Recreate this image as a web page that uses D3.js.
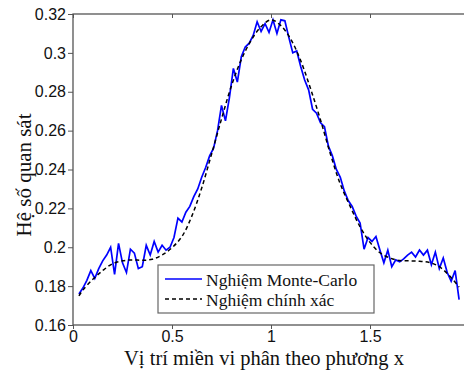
<!DOCTYPE html>
<html>
<head>
<meta charset="utf-8">
<script src="https://cdn.jsdelivr.net/npm/d3@7"></script>
<style>
  body { margin: 0; background: #fff; }
  svg { display: block; }
  .tick text { font-family: "Liberation Sans", Arial, sans-serif; font-size: 16px; fill: #111; }
  .lbl { font-family: "Liberation Serif", "Times New Roman", serif; fill: #111; }
</style>
</head>
<body>
<svg id="chart"></svg>
<script>
'use strict';

// exact solution (dashed)
var exactX = [0.03, 0.05, 0.10, 0.15, 0.20, 0.25, 0.30, 0.35, 0.40, 0.45, 0.50, 0.55, 0.60, 0.65, 0.70,
              0.75, 0.80, 0.85, 0.90, 0.95, 1.00, 1.05, 1.10, 1.15, 1.20, 1.25, 1.30, 1.35, 1.40, 1.45,
              1.50, 1.55, 1.60, 1.65, 1.70, 1.75, 1.80, 1.85, 1.90, 1.95];
var exactY = [0.1750, 0.1780, 0.1835, 0.1880, 0.1915, 0.1930, 0.1935, 0.1933, 0.1938, 0.1960, 0.1998, 0.2055, 0.2160, 0.2305, 0.2480,
              0.2660, 0.2830, 0.2965, 0.3065, 0.3135, 0.3170, 0.3140, 0.3070, 0.2960, 0.2815, 0.2655, 0.2480, 0.2325, 0.2210, 0.2105,
              0.2025, 0.1972, 0.1945, 0.1932, 0.1930, 0.1928, 0.1922, 0.1900, 0.1855, 0.1795];

// Monte-Carlo result, one value every 0.02 starting at x = 0.03
var mcStart = 0.03, mcStep = 0.02;
var mcY = [0.176, 0.179, 0.183, 0.188, 0.184, 0.189, 0.193, 0.196, 0.200, 0.186,
           0.202, 0.192, 0.187, 0.199, 0.197, 0.189, 0.190, 0.201, 0.196, 0.203,
           0.1975, 0.201, 0.1985, 0.200, 0.205, 0.215, 0.213, 0.218, 0.221, 0.226,
           0.230, 0.236, 0.241, 0.247, 0.251, 0.260, 0.273, 0.265, 0.277, 0.292,
           0.285, 0.298, 0.303, 0.305, 0.309, 0.316, 0.311, 0.315, 0.3105, 0.317,
           0.310, 0.317, 0.3165, 0.308, 0.300, 0.301, 0.293, 0.286, 0.281, 0.271,
           0.269, 0.264, 0.262, 0.252, 0.247, 0.240, 0.236, 0.229, 0.224, 0.221,
           0.216, 0.2125, 0.199, 0.205, 0.203, 0.2055, 0.1986, 0.192, 0.1985, 0.190,
           0.1935, 0.1925, 0.194, 0.196, 0.1975, 0.195, 0.1986, 0.196, 0.1985, 0.191,
           0.1975, 0.189, 0.1945, 0.187, 0.1825, 0.188, 0.173];

var xTicks = [0, 0.5, 1, 1.5];
var yTicks = [0.16, 0.18, 0.2, 0.22, 0.24, 0.26, 0.28, 0.3, 0.32];
var legendNames = ["Nghiệm Monte-Carlo", "Nghiệm chính xác"];

var width = 464, height = 372;
var m = { left: 73, right: 469, top: 14, bottom: 325 };

var svg = d3.select("#chart").attr("width", width).attr("height", height);

var x = d3.scaleLinear().domain([0, 2]).range([m.left, m.right]);
var y = d3.scaleLinear().domain([0.16, 0.32]).range([m.bottom, m.top]);

var exact = exactX.map(function(d, i) { return [d, exactY[i]]; });
var mc = mcY.map(function(v, i) { return [mcStart + i * mcStep, v]; });

// axes, matlab style box
var axisCol = "#555";
svg.append("g").attr("transform", "translate(0," + m.bottom + ")")
    .call(d3.axisBottom(x).tickValues(xTicks).tickFormat(d3.format("")).tickSize(4).tickPadding(2));
svg.append("g").attr("transform", "translate(" + m.left + ",0)")
    .call(d3.axisLeft(y).tickValues(yTicks).tickFormat(function(d) { return String(+d.toFixed(2)); }).tickSize(5).tickPadding(2));
svg.append("g").attr("transform", "translate(0," + m.top + ")")
    .call(d3.axisBottom(x).tickValues(xTicks).tickFormat("").tickSize(4));
svg.append("g").attr("transform", "translate(" + m.right + ",0)")
    .call(d3.axisLeft(y).tickValues(yTicks).tickFormat("").tickSize(5));
svg.selectAll(".domain").remove();
svg.selectAll(".tick line").attr("stroke", axisCol);

svg.append("rect")
    .attr("x", m.left).attr("y", m.top)
    .attr("width", m.right - m.left).attr("height", m.bottom - m.top)
    .attr("fill", "none").attr("stroke", axisCol).attr("stroke-width", 1.3);

var line = d3.line()
    .x(function(d) { return x(d[0]); })
    .y(function(d) { return y(d[1]); });

svg.append("path").datum(mc)
    .attr("d", line)
    .attr("fill", "none").attr("stroke", "#0000ff").attr("stroke-width", 1.7);

svg.append("path").datum(exact)
    .attr("d", line.curve(d3.curveCatmullRom))
    .attr("fill", "none").attr("stroke", "#000").attr("stroke-width", 1.5)
    .attr("stroke-dasharray", "4,3");

// legend
var leg = svg.append("g");
leg.append("rect")
    .attr("x", 158).attr("y", 265).attr("width", 216).attr("height", 48)
    .attr("fill", "#fff").attr("stroke", "#666").attr("stroke-width", 1.2);
var legStyle = [{ c: "#0000ff", dash: null }, { c: "#000", dash: "4,3" }];
legendNames.forEach(function(name, i) {
  var ly = 279 + i * 20;
  leg.append("line")
      .attr("x1", 165).attr("x2", 202).attr("y1", ly).attr("y2", ly)
      .attr("stroke", legStyle[i].c).attr("stroke-width", 1.5)
      .attr("stroke-dasharray", legStyle[i].dash);
  leg.append("text").attr("class", "lbl")
      .attr("x", 206).attr("y", ly + 6.5)
      .style("font-size", "17.5px")
      .text(name);
});

// axis labels
svg.append("text").attr("class", "lbl")
    .attr("x", 264).attr("y", 365)
    .attr("text-anchor", "middle")
    .style("font-size", "20.5px")
    .text("Vị trí miền vi phân theo phương x");

svg.append("text").attr("class", "lbl")
    .attr("transform", "translate(31,175) rotate(-90)")
    .attr("text-anchor", "middle")
    .style("font-size", "21px")
    .text("Hệ số quan sát");
</script>
</body>
</html>
